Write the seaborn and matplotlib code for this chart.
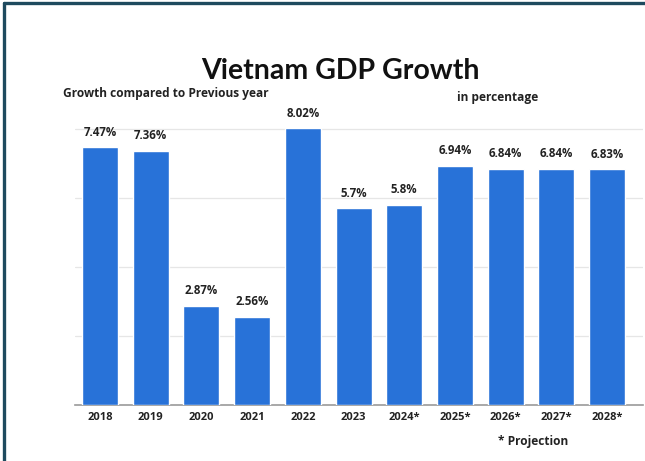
import matplotlib
matplotlib.use("Agg")
import matplotlib.pyplot as plt
import seaborn as sns
import pandas as pd
from matplotlib.lines import Line2D

years = ["2018", "2019", "2020", "2021", "2022", "2023", "2024*", "2025*", "2026*", "2027*", "2028*"]
growth = [7.47, 7.36, 2.87, 2.56, 8.02, 5.7, 5.8, 6.94, 6.84, 6.84, 6.83]
labels = ["7.47%", "7.36%", "2.87%", "2.56%", "8.02%", "5.7%", "5.8%", "6.94%", "6.84%", "6.84%", "6.83%"]

sns.set_theme(style="white")
plt.rcParams['font.family'] = ['Open Sans', 'DejaVu Sans']

df = pd.DataFrame({"year": years, "growth": growth})

fig = plt.figure(figsize=(6.45, 4.61), dpi=100)
ax = fig.add_axes([0.1157, 0.1215, 0.8805, 0.6735])

sns.barplot(data=df, x="year", y="growth", color="#2872D8", saturation=1, width=0.71, ax=ax, zorder=3)

ax.set_ylim(0, 9)
ax.set_xlim(-0.5, 10.7)
ax.set_yticks([2, 4, 6, 8])
ax.yaxis.grid(True, color="#e6e6e6", linewidth=0.9, zorder=0)
ax.set_yticklabels([])
ax.tick_params(axis="y", length=0)
ax.tick_params(axis="x", length=0, pad=5)
for lab in ax.get_xticklabels():
    lab.set_fontweight("bold")
    lab.set_fontsize(8)
    lab.set_color("#222222")
ax.set_xlabel("")
ax.set_ylabel("")
for s in ["top", "right", "left"]:
    ax.spines[s].set_visible(False)
ax.spines["bottom"].set_color("#999999")
ax.spines["bottom"].set_linewidth(1.2)

for i, (v, t) in enumerate(zip(growth, labels)):
    ax.text(i, v + 0.25, t, ha="center", va="bottom", fontsize=8.3, fontweight="bold", color="#222222")

fig.text(0.527, 0.846, "Vietnam GDP Growth", ha="center", va="center", fontsize=20.5, fontweight="bold",
         color="#111111", family=["Lato", "DejaVu Sans"])
fig.text(0.098, 0.797, "Growth compared to Previous year", ha="left", va="center", fontsize=8.6, fontweight="bold", color="#222222")
fig.text(0.708, 0.789, "in percentage", ha="left", va="center", fontsize=8.6, fontweight="bold", color="#222222")
fig.text(0.772, 0.042, "* Projection", ha="left", va="center", fontsize=8.6, fontweight="bold", color="#222222")

# frame border
fig.add_artist(Line2D([0.006, 1.0], [0.993, 0.993], transform=fig.transFigure, color="#1E4A5E", linewidth=2.4))
fig.add_artist(Line2D([0.006, 0.006], [0.0, 0.993], transform=fig.transFigure, color="#1E4A5E", linewidth=2.4))

fig.savefig("out.png", dpi=100)
